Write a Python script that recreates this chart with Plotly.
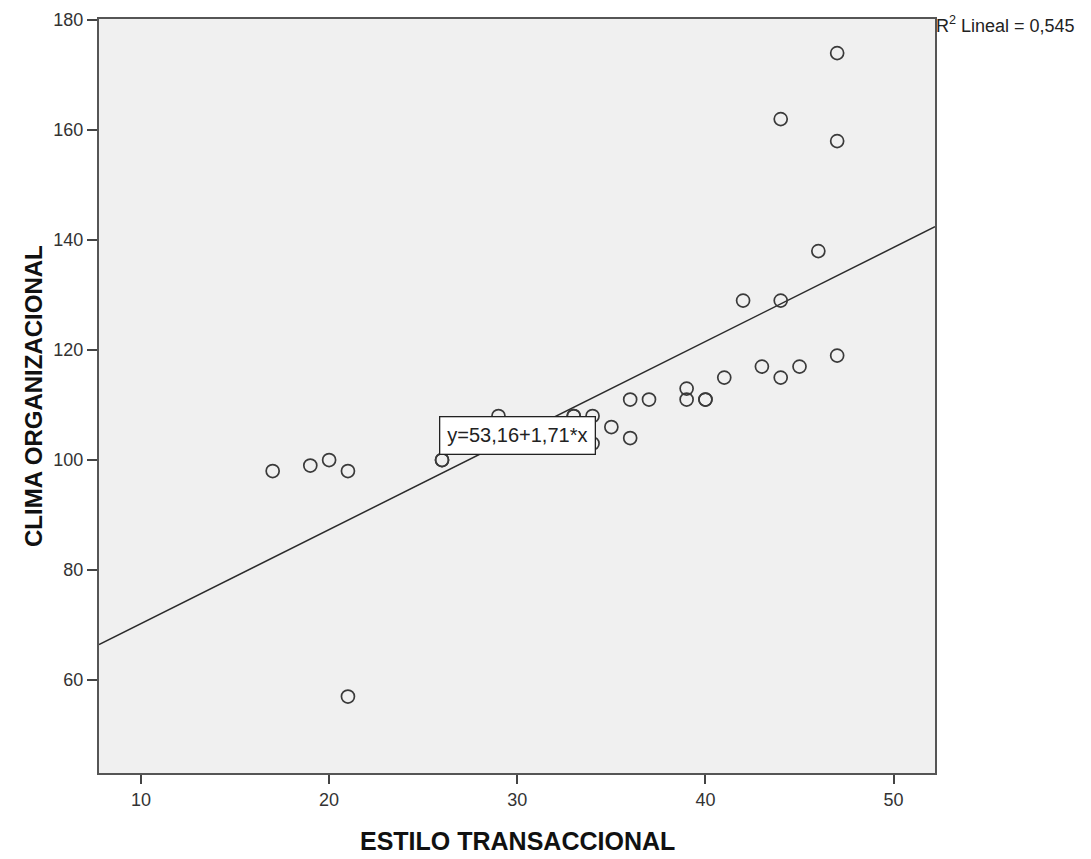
import plotly.graph_objects as go

# Data
estilo = [47, 44, 47, 46, 42, 44, 47, 43, 45, 41, 44, 39, 39, 40, 40, 37, 36,
          35, 36, 34, 34, 33, 33, 29, 26, 26, 21, 20, 19, 17, 21]
clima = [174, 162, 158, 138, 129, 129, 119, 117, 117, 115, 115, 113, 111, 111, 111, 111, 111,
         106, 104, 108, 103, 108, 108, 108, 100, 100, 98, 100, 99, 98, 57]

intercept = 53.16
slope = 1.71
r2_text = "R<sup>2</sup> Lineal = 0,545"
eq_text = "y=53,16+1,71*x"
x_title = "<b>ESTILO TRANSACCIONAL</b>"
y_title = "<b>CLIMA ORGANIZACIONAL</b>"

x_range = [7.77, 52.2]
y_range = [43.1, 180.2]
x_ticks = [10, 20, 30, 40, 50]
y_ticks = [60, 80, 100, 120, 140, 160, 180]

fit_x = x_range
fit_y = [intercept + slope * v for v in fit_x]

fig = go.Figure()
fig.add_trace(go.Scatter(
    x=fit_x, y=fit_y, mode="lines",
    line=dict(color="#2b2b2b", width=1.5), hoverinfo="skip", showlegend=False))
fig.add_trace(go.Scatter(
    x=estilo, y=clima, mode="markers",
    marker=dict(symbol="circle-open", size=13, color="#3a3a3a", line=dict(width=1.7)),
    showlegend=False))

fig.add_annotation(x=30.0, y=104.5, xref="x", yref="y", text=eq_text, showarrow=False,
                   bgcolor="white", bordercolor="#222", borderwidth=1.3, borderpad=7,
                   font=dict(family="Liberation Sans, Arial", size=20, color="#222"))
fig.add_annotation(x=1.0, y=1.0, xref="paper", yref="paper", text=r2_text, showarrow=False,
                   xanchor="left", yanchor="top", xshift=-1, yshift=8,
                   font=dict(family="Liberation Sans, Arial", size=18, color="#222"))

axis_font = dict(family="Liberation Sans, Arial", size=18, color="#333")
title_font = dict(family="Liberation Sans, Arial", size=24, color="#111")

fig.add_annotation(x=0, y=0.5, xref="paper", yref="paper", text=y_title, showarrow=False,
                   textangle=-90, xanchor="center", yanchor="middle", xshift=-66,
                   font=title_font)
fig.add_annotation(x=0.5, y=0, xref="paper", yref="paper", text=x_title, showarrow=False,
                   xanchor="center", yanchor="middle", yshift=-68,
                   font=dict(family="Liberation Sans, Arial", size=25, color="#111"))

fig.update_xaxes(range=x_range, tickvals=x_ticks, ticks="outside", ticklen=9, tickwidth=2,
                 tickcolor="#444", showgrid=False, zeroline=False, showline=True, linecolor="#555",
                 linewidth=2, mirror=True, tickfont=axis_font, automargin=False)
fig.update_yaxes(range=y_range, tickvals=y_ticks, ticks="outside", ticklen=10, tickwidth=2,
                 tickcolor="#444", showgrid=False, zeroline=False, showline=True, linecolor="#555",
                 linewidth=2, mirror=True, tickfont=axis_font, automargin=False)

fig.update_layout(width=1091, height=859, autosize=False,
                  margin=dict(l=91, r=164, t=11, b=94),
                  paper_bgcolor="white", plot_bgcolor="#f0f0f0")

fig.write_html("out.html")
